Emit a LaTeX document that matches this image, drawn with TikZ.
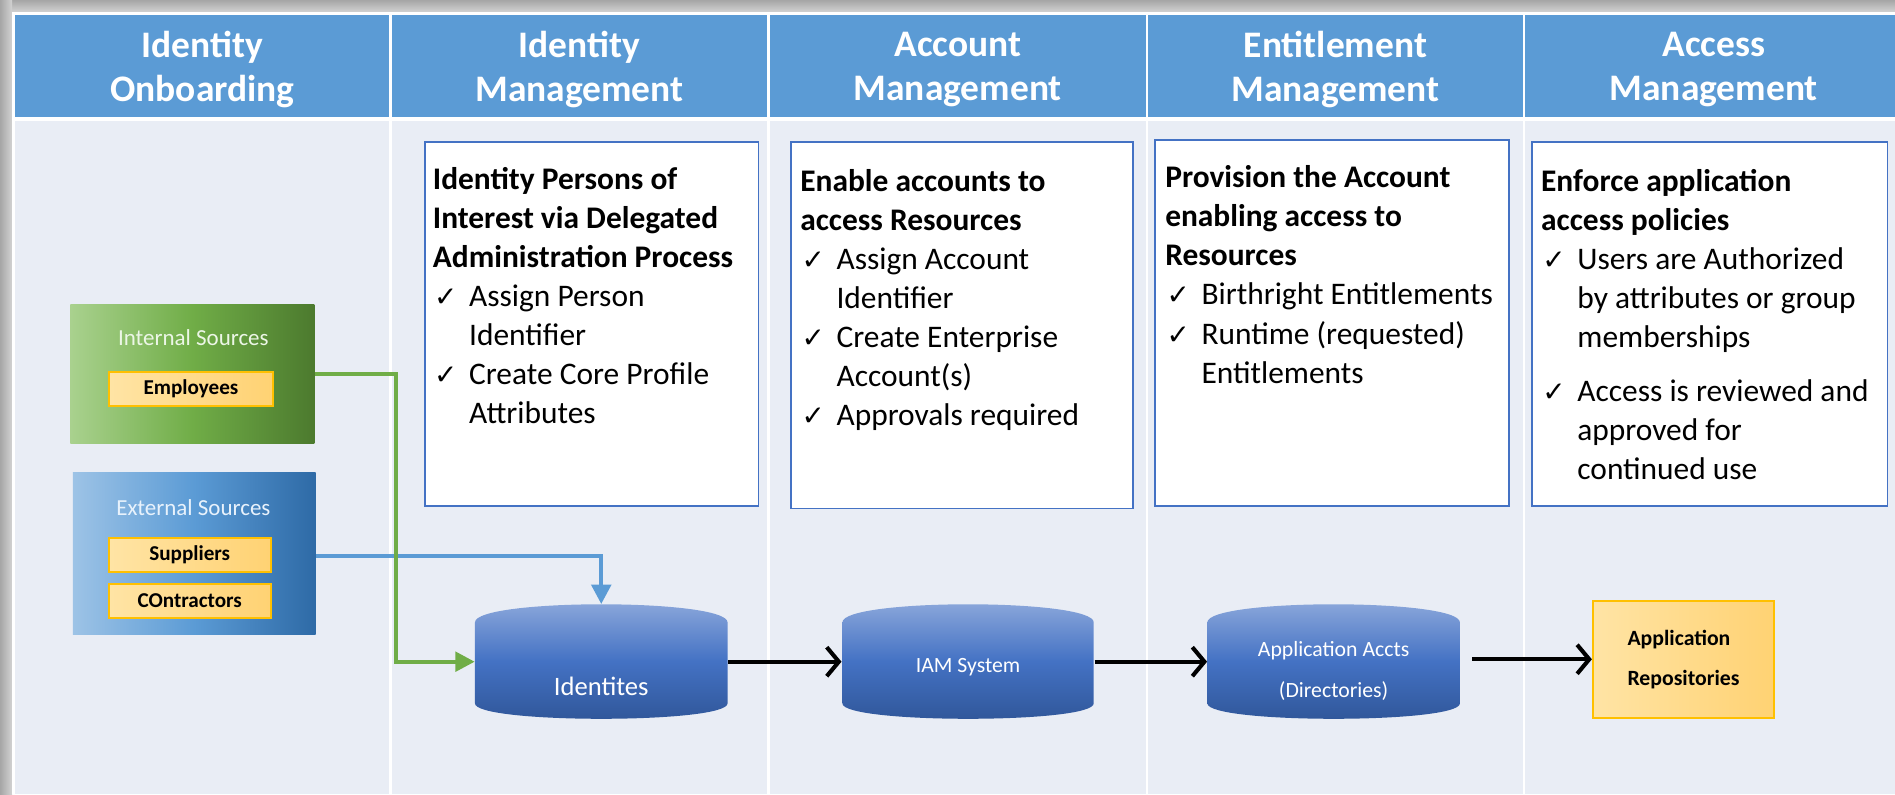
\documentclass[tikz,border=0pt]{standalone}
\usepackage{fontspec}
\setmainfont{Carlito}
\newfontfamily\symfont{DejaVu Sans}
\usetikzlibrary{arrows.meta}
\definecolor{hdrblue}{RGB}{91,155,213}
\definecolor{bodybg}{RGB}{233,237,245}
\definecolor{panelline}{RGB}{68,114,196}
\definecolor{gold}{RGB}{255,192,0}
\definecolor{tagl}{RGB}{255,228,165}
\definecolor{tagr}{RGB}{255,210,115}
\definecolor{grnL}{RGB}{169,209,142}
\definecolor{grnM}{RGB}{112,173,71}
\definecolor{grnR}{RGB}{76,122,46}
\definecolor{bluL}{RGB}{157,195,230}
\definecolor{bluM}{RGB}{91,155,213}
\definecolor{bluR}{RGB}{46,106,166}
\definecolor{cyltop}{RGB}{143,170,220}
\definecolor{cylmid}{RGB}{68,114,196}
\definecolor{cylbot}{RGB}{47,85,151}
\definecolor{grnline}{RGB}{112,173,71}
\definecolor{bluline}{RGB}{91,155,213}
\definecolor{intTxt}{RGB}{236,246,230}
\definecolor{extTxt}{RGB}{232,242,252}
\newcommand{\ck}{\makebox[30pt][l]{\hspace{1pt}{\symfont\fontsize{23}{23}\selectfont ✓}}}
\newcommand{\ind}{\hspace*{30pt}}
\newcommand{\drawcyl}[2]{%
  \shade[top color=cyltop, bottom color=cylbot, middle color=cylmid]
    (#1,582) -- (#1,515) .. controls (#1,495) and (#2,495) .. (#2,515)
    -- (#2,582) .. controls (#2,599) and (#1,599) .. (#1,582) -- cycle;}
\tikzset{
  hdr/.style={text=white, font=\fontsize{31}{36}\selectfont\bfseries, align=center, inner sep=0pt},
  panel/.style={draw=panelline, line width=1.3pt, fill=white, anchor=north west, inner sep=0pt},
  ptext/.style={anchor=north west, inner sep=0pt, align=left, font=\fontsize{26}{32.3}\selectfont},
  srcbox/.style={anchor=north west, inner sep=0pt},
  srctitle/.style={font=\fontsize{19}{22}\selectfont, inner sep=0pt},
  tagbox/.style={draw=gold, line width=1.6pt, left color=tagl, right color=tagr,
    font=\fontsize{17.5}{20}\selectfont\bfseries, inner sep=0pt},
  cylbox/.style={minimum width=209pt, minimum height=95pt, inner sep=0pt},
  cyltext/.style={text=white, inner sep=0pt, align=center},
  flowarrow/.style={line width=3.4pt, -{Straight Barb[length=10pt,width=24pt]}},
  grnarrow/.style={draw=grnline, line width=3.4pt, -{Triangle[length=16pt,width=16pt]}, fill=none},
  bluarrow/.style={draw=bluline, line width=3.4pt, -{Triangle[length=16pt,width=16pt]}, fill=none}
}
\begin{document}
\begin{tikzpicture}[x=1pt,y=-1pt]
\useasboundingbox (0,0) rectangle (1568,657);
% frame and shadow
\fill[gray!45] (0,0) rectangle (1568,657);
\shade[top color=gray!70, bottom color=gray!35] (0,0) rectangle (1568,10);
\shade[left color=gray!70, right color=gray!35] (0,0) rectangle (10,657);
\fill[white] (10,10) rectangle (1568,657);
\fill[hdrblue] (12,12) rectangle (1568,97);
\fill[bodybg] (12,100) rectangle (1568,657);
\foreach \x in {323,636,949,1261} \draw[white, line width=2pt] (\x,12) -- (\x,657);
% headers
\node[hdr] (h1) at (167.5,57.5) {Identity\\Onboarding};
\node[hdr] (h2) at (479.5,57.5) {Identity\\Management};
\node[hdr] (h3) at (792.5,57.5) {Account\\Management};
\node[hdr] (h4) at (1105,57.5) {Entitlement\\Management};
\node[hdr] (h5) at (1418,57.5) {Access\\Management};
% panels
\node[panel, minimum width=276pt, minimum height=301pt] (p2) at (351,117) {};
\node[panel, minimum width=283pt, minimum height=303pt] (p3) at (654,117) {};
\node[panel, minimum width=293pt, minimum height=303pt] (p4) at (955,115) {};
\node[panel, minimum width=294pt, minimum height=301pt] (p5) at (1267,117) {};
\node[ptext] (t2) at (358,138) {\textbf{Identity Persons of}\\\textbf{Interest via Delegated}\\\textbf{Administration Process}\\\ck Assign Person\\\ind Identifier\\\ck Create Core Profile\\\ind Attributes};
\node[ptext] (t3) at (662,140) {\textbf{Enable accounts to}\\\textbf{access Resources}\\\ck Assign Account\\\ind Identifier\\\ck Create Enterprise\\\ind Account(s)\\\ck Approvals required};
\node[ptext] (t4) at (964,137) {\textbf{Provision the Account}\\\textbf{enabling access to}\\\textbf{Resources}\\\ck Birthright Entitlements\\\ck Runtime (requested)\\\ind Entitlements};
\node[ptext] (t5) at (1275,140) {\textbf{Enforce application}\\\textbf{access policies}\\\ck Users are Authorized\\\ind by attributes or group\\\ind memberships\\[12pt]\ck Access is reviewed and\\\ind approved for\\\ind continued use};
% sources
\node[srcbox, minimum width=202pt, minimum height=115pt, left color=grnL, right color=grnR, middle color=grnM] (ints) at (58,252) {};
\node[srctitle, text=intTxt] (intt) at (160,279) {Internal Sources};
\node[tagbox, minimum width=136pt, minimum height=28pt] (emp) at (158,322) {Employees};
\node[srcbox, minimum width=201pt, minimum height=134pt, left color=bluL, right color=bluR, middle color=bluM] (exts) at (60,391) {};
\node[srctitle, text=extTxt] (extt) at (160,420) {External Sources};
\node[tagbox, minimum width=134pt, minimum height=28pt] (sup) at (157,459) {Suppliers};
\node[tagbox, minimum width=134pt, minimum height=28pt] (con) at (157,497) {COntractors};
% cylinders
\drawcyl{393}{602}
\drawcyl{697}{905}
\drawcyl{999}{1208}
\node[cylbox] (idn) at (497.5,547.5) {};
\node[cylbox] (iam) at (801,547.5) {};
\node[cylbox] (apa) at (1103.5,547.5) {};
\node[cyltext, font=\fontsize{22}{26}\selectfont] (idnt) at (497.5,568) {Identites};
\node[cyltext, font=\fontsize{18}{22}\selectfont] (iamt) at (801,552) {IAM System};
\node[cyltext, font=\fontsize{18}{34}\selectfont] (apat) at (1103.5,555) {Application Accts\\(Directories)};
\node[tagbox, minimum width=150pt, minimum height=97pt, align=left, font=\fontsize{18}{33}\selectfont\bfseries] (repo) at (1393,545.5) {Application\\Repositories};
% connectors
\draw[bluarrow] (exts.east) ++(0,2) -| (idn.north);
\draw[grnarrow] (ints.east) -- ++(67,0) |- (idn.west);
\draw[flowarrow] (idn.east) -- (iam.west);
\draw[flowarrow] (iam.east) -- (apa.west);
\draw[flowarrow, shorten <=10pt] (apa.east |- repo.west) -- (repo.west);
\end{tikzpicture}
\end{document}
